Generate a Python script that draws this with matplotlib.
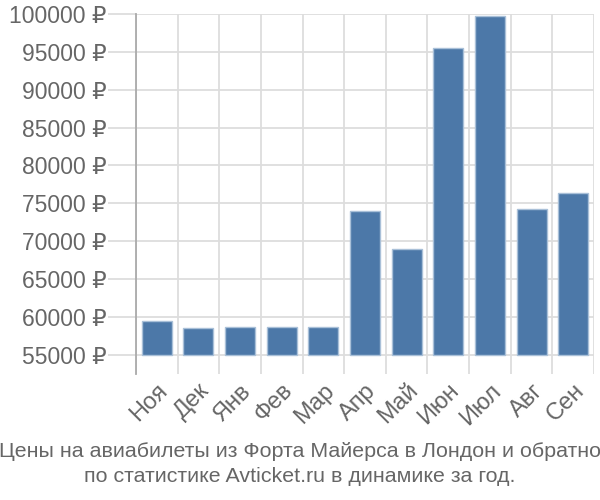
import matplotlib
matplotlib.use("Agg")
import matplotlib.pyplot as plt
import numpy as np

months = ["Ноя", "Дек", "Янв", "Фев", "Мар", "Апр", "Май", "Июн", "Июл", "Авг", "Сен"]
prices = [59400, 58530, 58600, 58700, 58600, 74000, 69000, 95500, 99750, 74200, 76400]
yticks = [55000, 60000, 65000, 70000, 75000, 80000, 85000, 90000, 95000, 100000]
title = "Цены на авиабилеты из Форта Майерса в Лондон и обратно\nпо статистике Avticket.ru в динамике за год."

plt.rcParams['font.family'] = ['Liberation Sans', 'DejaVu Sans']

fig = plt.figure(figsize=(6, 5), dpi=100)
ax = fig.add_axes([136/600, 1-374/500, (594-136)/600, (374-14)/500])

base = 55000
x = np.arange(len(months))
ax.bar(x, np.array(prices) - base, bottom=base, width=0.72,
       color="#4c78a8", edgecolor="#a9c0d8", linewidth=1, zorder=3)

ax.set_xlim(-0.5, len(months) - 0.5)
ax.set_ylim(52450, 100000)
ax.set_yticks(yticks)
ax.set_yticklabels([f"{v} ₽" for v in yticks], fontsize=16.5, color="#666666")
ax.set_xticks(x)
ax.set_xticklabels(months, rotation=45, ha="right", rotation_mode="anchor",
                   fontsize=17, color="#666666")
ax.set_xticks(np.arange(-0.5, len(months)), minor=True)
ax.tick_params(axis="x", which="major", length=0, pad=4)
ax.tick_params(axis="x", which="minor", length=0)
ax.tick_params(axis="y", length=20, color="#dddddd", width=1.3, pad=1)

ax.grid(axis="y", which="major", color="#dddddd", linewidth=1.3, zorder=0)
ax.grid(axis="x", which="minor", color="#dddddd", linewidth=1.3, zorder=0)
for s in ["top", "right", "bottom"]:
    ax.spines[s].set_visible(False)
ax.spines["left"].set_color("#aaaaaa")
ax.spines["left"].set_linewidth(1.3)

fig.text(0.5, 0.072, title, ha="center", va="center", fontsize=15.4,
         color="#666666", family=["Liberation Sans Narrow", "Liberation Sans", "DejaVu Sans"],
         linespacing=1.4)

fig.savefig("out.png", dpi=100)
